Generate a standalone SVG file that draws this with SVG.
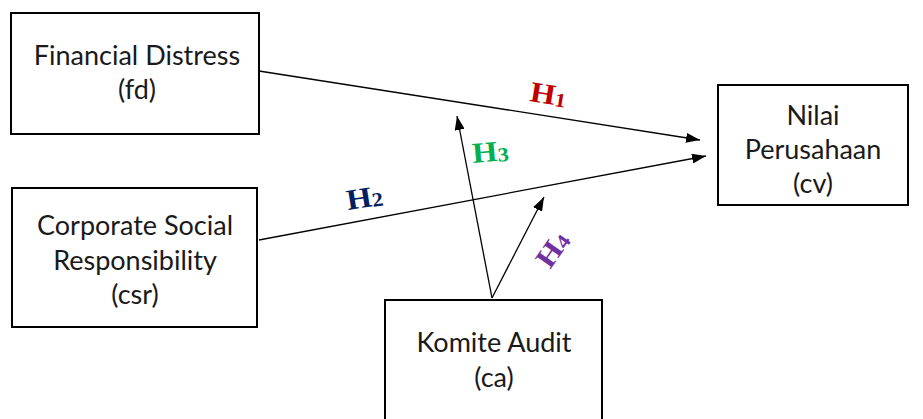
<svg xmlns="http://www.w3.org/2000/svg" width="923" height="419" viewBox="0 0 923 419">
  <style>
    .box { fill: #ffffff; stroke: #000000; stroke-width: 2; }
    .lbl { font-family: Lato, "Liberation Sans", sans-serif; font-size: 27px; fill: #1a1a1a; text-anchor: middle; }
    .edge { stroke: #000000; stroke-width: 1.3; fill: none; marker-end: url(#arrow); }
    .hyp { font-family: "Liberation Serif", "Times New Roman", serif; font-weight: bold; font-size: 29px; }
    .sub { font-size: 20px; }
  </style>
  <defs>
    <marker id="arrow" viewBox="0 0 14 10" refX="14" refY="5" markerWidth="14" markerHeight="10" markerUnits="userSpaceOnUse" orient="auto">
      <path d="M0,0 L14,5 L0,10 Z" fill="#000000"/>
    </marker>
  </defs>

  <!-- variable boxes -->
  <g id="node-fd">
    <rect class="box" x="11" y="13" width="248" height="121"/>
    <text class="lbl" x="137" y="65">Financial Distress</text>
    <text class="lbl" x="137" y="99">(fd)</text>
  </g>
  <g id="node-csr">
    <rect class="box" x="12" y="188" width="245" height="139"/>
    <text class="lbl" x="135" y="235">Corporate Social</text>
    <text class="lbl" x="135" y="270">Responsibility</text>
    <text class="lbl" x="135" y="304">(csr)</text>
  </g>
  <g id="node-cv">
    <rect class="box" x="718" y="85" width="190" height="120"/>
    <text class="lbl" x="813" y="125">Nilai</text>
    <text class="lbl" x="813" y="159">Perusahaan</text>
    <text class="lbl" x="813" y="193">(cv)</text>
  </g>
  <g id="node-ca">
    <rect class="box" x="385" y="300" width="217" height="130"/>
    <text class="lbl" x="494" y="352">Komite Audit</text>
    <text class="lbl" x="494" y="387">(ca)</text>
  </g>

  <!-- hypothesis paths -->
  <g id="connectors">
    <line class="edge" x1="259" y1="71" x2="700" y2="140"/>
    <line class="edge" x1="259" y1="240" x2="706" y2="156"/>
    <line class="edge" x1="492" y1="298" x2="457" y2="116"/>
    <line class="edge" x1="492" y1="298" x2="544" y2="197"/>
  </g>

  <!-- hypothesis labels (slightly widened serif) -->
  <g id="labels">
    <text class="hyp" fill="#C00000" transform="translate(529,101) rotate(9) scale(1.12,1)">H<tspan class="sub" dy="1">1</tspan></text>
    <text class="hyp" fill="#002060" transform="translate(348,210) rotate(-9) scale(1.12,1)">H<tspan class="sub" dy="1">2</tspan></text>
    <text class="hyp" fill="#00B050" transform="translate(473,163) rotate(-5) scale(1.12,1)">H<tspan class="sub" dy="1">3</tspan></text>
    <text class="hyp" fill="#7030A0" transform="translate(550,270) rotate(-55) scale(1.12,1)">H<tspan class="sub" dy="1">4</tspan></text>
  </g>
</svg>
